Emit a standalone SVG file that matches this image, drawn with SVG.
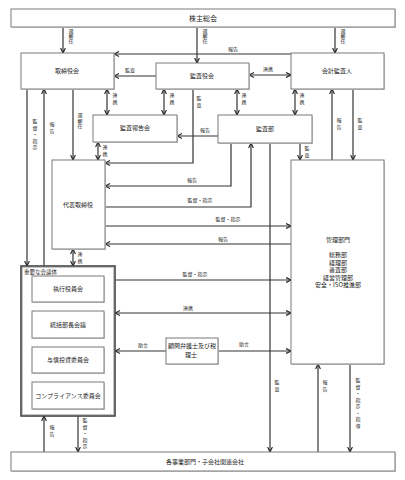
<svg xmlns="http://www.w3.org/2000/svg" width="405" height="480" viewBox="0 0 405 480">
<style>
.b{fill:#fff;stroke:#7a7a7a;stroke-width:1}
.sh{fill:#d0d0d0}
.t{font-family:"Noto Sans CJK JP","Liberation Sans",sans-serif;font-size:6px;fill:#222;text-anchor:middle}
.l{font-family:"Noto Sans CJK JP","Liberation Sans",sans-serif;font-size:5px;fill:#222;text-anchor:middle}
.v{font-family:"Noto Sans CJK JP","Liberation Sans",sans-serif;font-size:5px;fill:#222;writing-mode:vertical-rl;text-anchor:start;letter-spacing:1.5px}
.c{fill:none;stroke:#333;stroke-width:1.2}
.e{marker-end:url(#a)}
.s{marker-start:url(#a)}
</style>
<defs>
<marker id="a" viewBox="0 0 6 6" refX="5.5" refY="3" markerWidth="6" markerHeight="6" markerUnits="userSpaceOnUse" orient="auto-start-reverse">
<path d="M0.5,0.6 L5.5,3 L0.5,5.4" fill="none" stroke="#222" stroke-width="1.1"/>
</marker>
</defs>
<rect width="405" height="480" fill="#fff"/>

<g id="connectors">
<path class="c e" d="M63,27V53"/>
<path class="c e" d="M197,27V63"/>
<path class="c e" d="M335,27V53"/>
<path class="c e" d="M291,54H114"/>
<path class="c e" d="M156,76H114"/>
<path class="c e s" d="M249,75H291"/>
<path class="c e s" d="M107,89V115"/>
<path class="c e s" d="M164,89V115"/>
<path class="c e s" d="M237,89V115"/>
<path class="c e s" d="M295,89V115"/>
<path class="c e" d="M332,160V89"/>
<path class="c e" d="M353,89V160"/>
<path class="c e" d="M193,89V163H105"/>
<path class="c e" d="M218,136H177"/>
<path class="c e s" d="M98,142V160"/>
<path class="c e" d="M27,89V266"/>
<path class="c e" d="M44,266V89"/>
<path class="c e" d="M73,89V160"/>
<path class="c e" d="M231,143V186H105"/>
<path class="c e" d="M105,207H251V143"/>
<path class="c e" d="M300,143V160"/>
<path class="c e" d="M270,143V452"/>
<path class="c e" d="M105,226H291"/>
<path class="c e" d="M291,244H105"/>
<path class="c e s" d="M73,249V266"/>
<path class="c e" d="M115,280H291"/>
<path class="c e s" d="M115,313H291"/>
<path class="c e" d="M166,351H115"/>
<path class="c e" d="M218,351H291"/>
<path class="c e" d="M318,452V364"/>
<path class="c e" d="M350,364V452"/>
<path class="c e" d="M44,452V416"/>
<path class="c e" d="M78,416V452"/>

<text class="v" x="71" y="29" style="letter-spacing:0">選解任</text>
<text class="v" x="205" y="29" style="letter-spacing:0">選解任</text>
<text class="v" x="343" y="29" style="letter-spacing:0">選解任</text>
<text class="l" x="233" y="51">報告</text>
<text class="l" x="130" y="72">監査</text>
<text class="l" x="268" y="71">連携</text>
<text class="v" x="115" y="93">連携</text>
<text class="v" x="172" y="93">連携</text>
<text class="v" x="244" y="93">連携</text>
<text class="v" x="302" y="93">連携</text>
<text class="v" x="339" y="118">報告</text>
<text class="v" x="360" y="118">監査</text>
<text class="v" x="199" y="96">監査</text>
<text class="l" x="205" y="132">報告</text>
<text class="v" x="105" y="145">連携</text>
<text class="v" x="35" y="119">監督・指示</text>
<text class="v" x="52" y="122">報告</text>
<text class="v" x="80" y="113" style="letter-spacing:0.5px">選解任</text>
<text class="l" x="192" y="182">報告</text>
<text class="l" x="200" y="202">監督・指示</text>
<text class="v" x="307" y="146">監査</text>
<text class="v" x="277" y="380">監査</text>
<text class="l" x="228" y="221">監督・指示</text>
<text class="l" x="223" y="241">報告</text>
<text class="v" x="80" y="252">連携</text>
<text class="l" x="195" y="276">監督・指示</text>
<text class="l" x="188" y="310">連携</text>
<text class="l" x="143" y="347">助言</text>
<text class="l" x="244" y="346">助言</text>
<text class="v" x="325" y="380">報告</text>
<text class="v" x="358" y="378">監督・指示・指導</text>
<text class="v" x="52" y="425">報告</text>
<text class="v" x="85" y="418">監督・指示</text>
</g>

<g id="kabunushi">
<rect class="sh" x="12" y="10" width="384" height="18"/>
<rect class="b" x="11" y="9" width="384" height="18"/>
<text class="t" x="203" y="20.5" style="font-size:7px">株主総会</text>
</g>
<g id="torishimariyakukai">
<rect class="sh" x="22" y="54" width="93" height="36"/>
<rect class="b" x="21" y="53" width="93" height="36"/>
<text class="t" x="67" y="73">取締役会</text>
</g>
<g id="kansayakukai">
<rect class="sh" x="157" y="64" width="93" height="26"/>
<rect class="b" x="156" y="63" width="93" height="26"/>
<text class="t" x="202" y="78">監査役会</text>
</g>
<g id="kaikeikansanin">
<rect class="sh" x="292" y="54" width="93" height="36"/>
<rect class="b" x="291" y="53" width="93" height="36"/>
<text class="t" x="337" y="73">会計監査人</text>
</g>
<g id="kansahokokukai">
<rect class="sh" x="94" y="116" width="84" height="27"/>
<rect class="b" x="93" y="115" width="84" height="27"/>
<text class="t" x="135" y="130">監査報告会</text>
</g>
<g id="kansabu">
<rect class="sh" x="219" y="116" width="94" height="28"/>
<rect class="b" x="218" y="115" width="94" height="28"/>
<text class="t" x="265" y="131">監査部</text>
</g>
<g id="daihyo">
<rect class="sh" x="53" y="161" width="53" height="89"/>
<rect class="b" x="52" y="160" width="53" height="89"/>
<text class="t" x="78" y="207">代表取締役</text>
</g>
<g id="kanri">
<rect class="sh" x="292" y="161" width="93" height="204"/>
<rect class="b" x="291" y="160" width="93" height="204"/>
<text class="t" x="338" y="242">管理部門</text>
<text class="t" x="338" y="257">総務部</text>
<text class="t" x="338" y="264.5">経理部</text>
<text class="t" x="338" y="272">審査部</text>
<text class="t" x="338" y="279.5">経営管理部</text>
<text class="t" x="338" y="287">安全・ISO推進部</text>
</g>
<g id="kaigitai">
<rect x="21" y="266" width="94" height="150" fill="#fff" stroke="#444" stroke-width="1.6"/>
<rect x="22.5" y="267.5" width="91" height="147" fill="none" stroke="#aaa" stroke-width="0.7"/>
<text class="l" x="24" y="273.5" style="text-anchor:start;font-size:5.5px">重要な会議体</text>
</g>
<g id="shikkoyakuinkai">
<rect class="sh" x="33" y="277" width="72" height="26"/>
<rect class="b" x="32" y="276" width="72" height="26"/>
<text class="t" x="68" y="291">執行役員会</text>
</g>
<g id="tokatsubuchokaigi">
<rect class="sh" x="33" y="312" width="72" height="27"/>
<rect class="b" x="32" y="311" width="72" height="27"/>
<text class="t" x="68" y="326.5">統括部長会議</text>
</g>
<g id="yoshintoshi">
<rect class="sh" x="33" y="348" width="72" height="26"/>
<rect class="b" x="32" y="347" width="72" height="26"/>
<text class="t" x="68" y="362">与信投資委員会</text>
</g>
<g id="compliance">
<rect class="sh" x="33" y="383" width="72" height="27"/>
<rect class="b" x="32" y="382" width="72" height="27"/>
<text class="t" x="68" y="397.5">コンプライアンス委員会</text>
</g>
<g id="komon">
<rect class="sh" x="167" y="339" width="52" height="26"/>
<rect class="b" x="166" y="338" width="52" height="26"/>
<text class="t" x="192" y="348">顧問弁護士及び税</text>
<text class="t" x="191" y="357">理士</text>
</g>
<g id="jigyobumon">
<rect class="sh" x="12" y="453" width="384" height="19"/>
<rect class="b" x="11" y="452" width="384" height="19"/>
<text class="t" x="205" y="464">各事業部門・子会社関連会社</text>
</g>
</svg>
